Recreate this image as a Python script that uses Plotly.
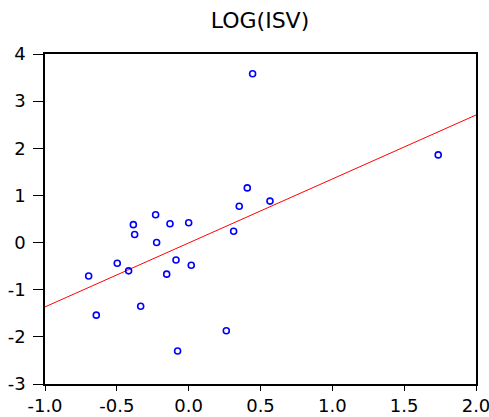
import plotly.graph_objects as go

# Observations
x_vals = [0.445, 1.737, 0.408, 0.566, 0.352, -0.230, -0.385, -0.130, 0.000,
          -0.376, -0.223, 0.313, -0.497, -0.088, 0.018, -0.418, -0.153, -0.696,
          -0.643, -0.334, -0.077, 0.262]
y_vals = [3.58, 1.86, 1.16, 0.88, 0.77, 0.59, 0.38, 0.40, 0.42,
          0.17, 0.00, 0.24, -0.44, -0.37, -0.48, -0.60, -0.67, -0.71,
          -1.54, -1.35, -2.30, -1.87]

# Fitted regression line
fit_slope = 1.357
fit_intercept = -0.008
line_x = [-1.0, 2.0]

x_ticks = [-1.0, -0.5, 0.0, 0.5, 1.0, 1.5, 2.0]
y_ticks = [-3, -2, -1, 0, 1, 2, 3, 4]

line_y = [fit_intercept + fit_slope * v for v in line_x]

fig = go.Figure()
fig.add_trace(go.Scatter(
    x=line_x, y=line_y, mode="lines",
    line=dict(color="#ff0000", width=1),
    hoverinfo="skip", showlegend=False,
))
fig.add_trace(go.Scatter(
    x=x_vals, y=y_vals, mode="markers",
    marker=dict(symbol="circle-open", size=6, color="#0000ff",
                line=dict(width=1.6, color="#0000ff")),
    showlegend=False,
))

font_family = "DejaVu Sans, Arial, sans-serif"
fig.update_layout(
    width=489, height=417,
    margin=dict(l=45, r=13, t=54, b=33, autoexpand=False),
    paper_bgcolor="white", plot_bgcolor="white",
    title=dict(text="LOG(ISV)", x=260 / 489, xanchor="center",
               y=1 - 20 / 417, yanchor="middle",
               font=dict(family=font_family, size=22, color="black")),
    font=dict(family=font_family, color="black"),
)
fig.update_xaxes(
    range=[-1.0, 2.0], tickvals=x_ticks,
    ticktext=[f"{v:.1f}" for v in x_ticks],
    ticks="outside", ticklen=5, tickwidth=1, tickcolor="black",
    showline=True, linecolor="black", linewidth=1.5, mirror=True,
    showgrid=False, zeroline=False, automargin=False,
    ticklabeloverflow="allow",
    tickfont=dict(size=18, family=font_family, color="black"),
)
fig.update_yaxes(
    range=[-3, 4], tickvals=y_ticks,
    ticktext=[str(v) for v in y_ticks],
    ticks="outside", ticklen=10, tickwidth=1, tickcolor="black",
    showline=True, linecolor="black", linewidth=1.5, mirror=True,
    showgrid=False, zeroline=False, automargin=False,
    ticklabeloverflow="allow", ticklabelstandoff=4,
    tickfont=dict(size=18, family=font_family, color="black"),
)

fig.write_html("out.html")
